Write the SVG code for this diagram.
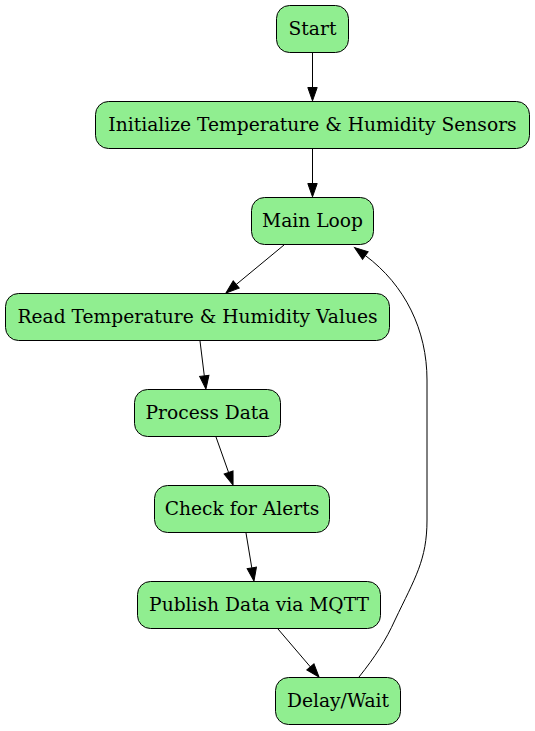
<svg xmlns="http://www.w3.org/2000/svg" width="535" height="731" viewBox="0 0 535 731">
<style>
.node rect{fill:#90ee90;stroke:#000;stroke-width:1}
.node text{font-family:"DejaVu Serif",serif;font-size:18.67px;text-anchor:middle;fill:#000}
.edge path{fill:none;stroke:#000;stroke-width:1}
</style>
<defs>
<marker id="arr" markerUnits="userSpaceOnUse" markerWidth="15" markerHeight="12" viewBox="0 -6 15 12" refX="0" refY="0" orient="auto" overflow="visible">
<path d="M0,-4.7 L13.3,0 L0,4.7 z" fill="#000" stroke="#000" stroke-width="1"/>
</marker>
</defs>
<rect width="535" height="731" fill="#fff"/>
<g id="edges" class="edge">
<path d="M312.5,52 L312.5,87.5" marker-end="url(#arr)"/>
<path d="M312.5,149 L312.5,183.5" marker-end="url(#arr)"/>
<path d="M284,245 L236.2,284.5" marker-end="url(#arr)"/>
<path d="M200,341 L204.3,375.8" marker-end="url(#arr)"/>
<path d="M216,437 L228.6,472.5" marker-end="url(#arr)"/>
<path d="M246,533 L251.8,567.9" marker-end="url(#arr)"/>
<path d="M278,629 L310.4,666.9" marker-end="url(#arr)"/>
<path d="M359,677 C375,657 386,640 395,620 C415,578 427,560 427,520 L427,380 C427,330 405,285 365.3,255.5" marker-end="url(#arr)"/>
</g>
<g id="start" class="node"><rect x="276.5" y="5.5" width="72" height="47" rx="13"/><text x="312.5" y="34.5">Start</text></g>
<g id="init" class="node"><rect x="95.5" y="101.5" width="434" height="47" rx="13"/><text x="312.5" y="130.5">Initialize Temperature &amp; Humidity Sensors</text></g>
<g id="mainloop" class="node"><rect x="251.5" y="197.5" width="122" height="47" rx="13"/><text x="312.5" y="226.5">Main Loop</text></g>
<g id="read" class="node"><rect x="5.5" y="293.5" width="384" height="47" rx="13"/><text x="197.5" y="322.5">Read Temperature &amp; Humidity Values</text></g>
<g id="process" class="node"><rect x="134.5" y="389.5" width="146" height="47" rx="13"/><text x="207.5" y="418.5">Process Data</text></g>
<g id="check" class="node"><rect x="154.5" y="485.5" width="175" height="47" rx="13"/><text x="242" y="514.5">Check for Alerts</text></g>
<g id="publish" class="node"><rect x="137.5" y="581.5" width="243" height="47" rx="13"/><text x="259" y="610.5">Publish Data via MQTT</text></g>
<g id="delay" class="node"><rect x="275.5" y="677.5" width="125" height="47" rx="13"/><text x="338" y="706.5">Delay/Wait</text></g>
</svg>
